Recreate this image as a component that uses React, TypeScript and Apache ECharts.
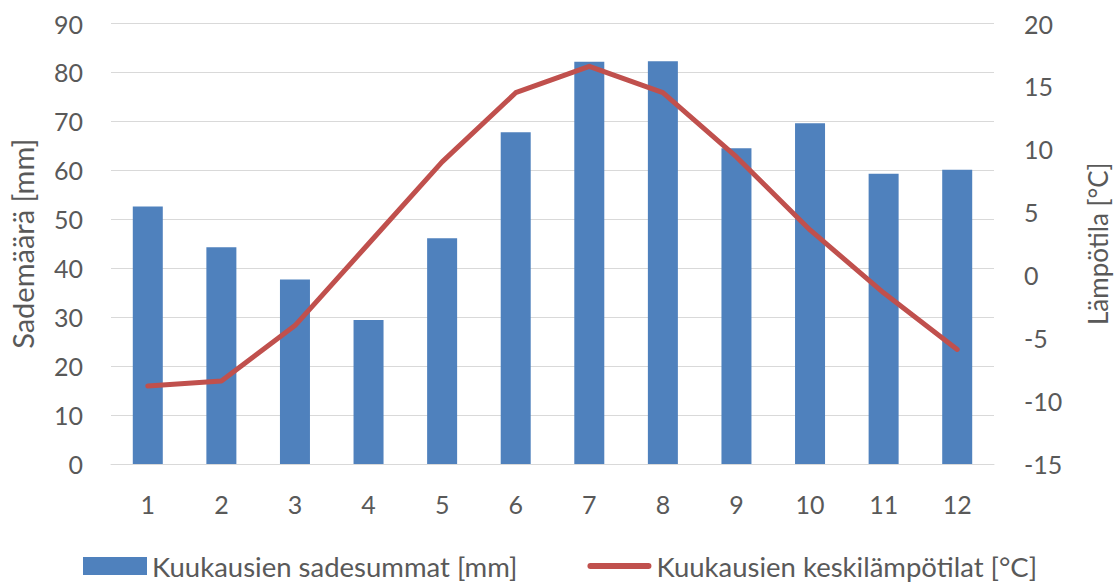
import React, { useEffect, useRef } from "react";
import * as echarts from "echarts";

const months = ["1", "2", "3", "4", "5", "6", "7", "8", "9", "10", "11", "12"];
const precipitation = [52.6, 44.3, 37.7, 29.4, 46.1, 67.8, 82.2, 82.3, 64.5, 69.6, 59.3, 60.1];
const temperature = [-8.8, -8.4, -4.0, 2.5, 9.0, 14.5, 16.6, 14.5, 9.4, 3.6, -1.4, -5.9];
const precipName = "Kuukausien sadesummat [mm]";
const tempName = "Kuukausien keskilämpötilat [°C]";
const leftAxisName = "Sademäärä [mm]";
const rightAxisName = "Lämpötila [°C]";

const FONT = "Lato";
const TXT = "#595959";
const GRIDC = "#D9D9D9";
const LINE_ICON = "path://M3,0 L61,0 A3,3 0 0 1 61,6 L3,6 A3,3 0 0 1 3,0 Z";

export default function App() {
  const ref = useRef<HTMLDivElement>(null);
  useEffect(() => {
    const chart = echarts.init(ref.current!, undefined, { renderer: "svg" });
    chart.setOption({
      animation: false,
      backgroundColor: "#ffffff",
      textStyle: { fontFamily: FONT, color: TXT },
      grid: { left: 108, right: 122, top: 23.5, bottom: 120 },
      legend: {
        left: 83,
        top: 552,
        padding: 0,
        itemWidth: 64,
        itemHeight: 18,
        itemGap: 70,
        textStyle: { fontFamily: FONT, fontSize: 27.5, lineHeight: 28, color: TXT },
        data: [
          { name: precipName, icon: "rect" },
          { name: tempName, icon: LINE_ICON },
        ],
      },
      xAxis: {
        type: "category",
        data: months,
        axisLine: { show: true, lineStyle: { color: GRIDC, width: 1 } },
        axisTick: { show: false },
        axisLabel: { fontFamily: FONT, fontSize: 25, color: TXT, margin: 27 },
      },
      yAxis: [
        {
          type: "value",
          min: 0,
          max: 90,
          interval: 10,
          name: leftAxisName,
          nameLocation: "middle",
          nameRotate: 90,
          nameGap: 74,
          nameTextStyle: { fontFamily: FONT, fontSize: 29, color: TXT },
          axisLine: { show: false },
          axisTick: { show: false },
          axisLabel: { fontFamily: FONT, fontSize: 25, color: TXT, margin: 28 },
          splitLine: { show: true, lineStyle: { color: GRIDC, width: 1 } },
        },
        {
          type: "value",
          min: -15,
          max: 20,
          interval: 5,
          position: "right",
          name: rightAxisName,
          nameLocation: "middle",
          nameRotate: 90,
          nameGap: 91,
          nameTextStyle: { fontFamily: FONT, fontSize: 26, color: TXT },
          axisLine: { show: false },
          axisTick: { show: false },
          axisLabel: { fontFamily: FONT, fontSize: 25, color: TXT, margin: 30 },
          splitLine: { show: false },
        },
      ],
      series: [
        {
          name: precipName,
          type: "bar",
          data: precipitation,
          barWidth: 30,
          itemStyle: { color: "#4F81BD" },
          yAxisIndex: 0,
        },
        {
          name: tempName,
          type: "line",
          data: temperature,
          yAxisIndex: 1,
          symbol: "none",
          lineStyle: { color: "#C0504D", width: 5, cap: "round", join: "round" },
          itemStyle: { color: "#C0504D" },
        },
      ],
    });
    return () => chart.dispose();
  }, []);
  return (
    <div
      ref={ref}
      style={{ position: "fixed", left: 0, top: 0, width: 1119, height: 584, background: "#fff" }}
    />
  );
}
